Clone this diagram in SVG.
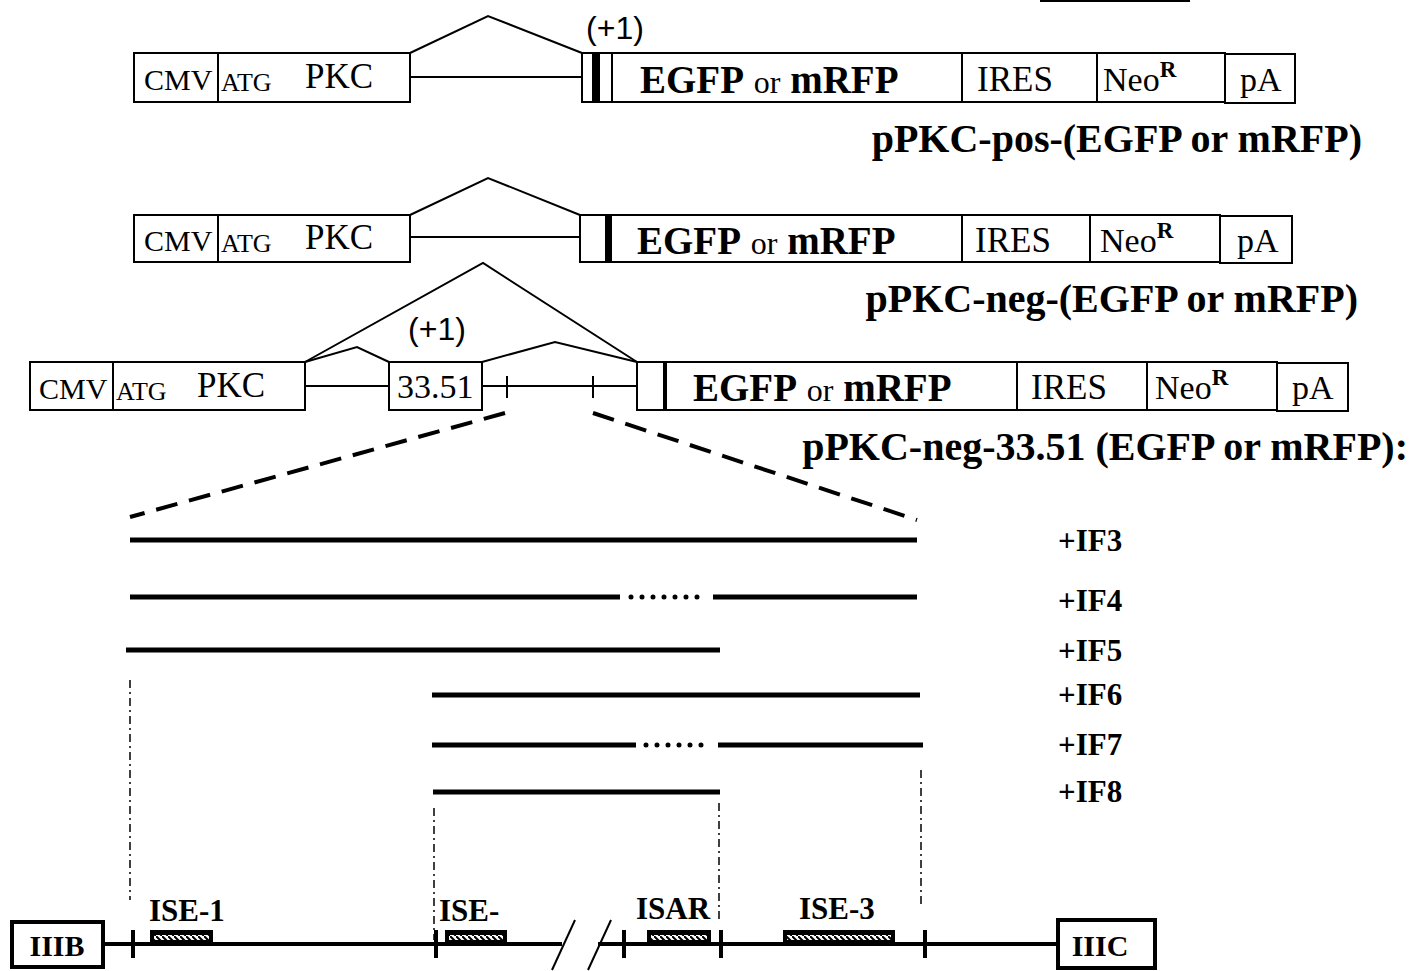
<svg xmlns="http://www.w3.org/2000/svg" width="1412" height="971" viewBox="0 0 1412 971">
<style>
.bx{fill:#fff;stroke:#000;stroke-width:2}
.ln{fill:none;stroke:#000;stroke-width:2}
.t{font-family:"Liberation Serif",serif;fill:#000}
.b{font-weight:bold}
.s{font-family:"Liberation Sans",sans-serif;fill:#000}
.bar{stroke:#000;stroke-width:5;fill:none}
.dots{stroke:#000;stroke-width:5;fill:none;stroke-linecap:round;stroke-dasharray:0 11}
.dd{stroke:#000;stroke-width:4;fill:none;stroke-dasharray:22 12}
.dash-dot{stroke:#000;stroke-width:1.5;fill:none;stroke-dasharray:8 4 2 4}
.tick{stroke:#000;stroke-width:4}
.thick{fill:#fff;stroke:#000;stroke-width:4}
</style>
<defs>
<pattern id="hatch" width="6" height="6" patternUnits="userSpaceOnUse">
<rect width="6" height="6" fill="#fff"/>
<path d="M0,0 L6,6" stroke="#000" stroke-width="2"/>
</pattern>
</defs>
<rect width="1412" height="971" fill="#fff"/>
<line x1="1040" y1="1" x2="1190" y2="1" stroke="#000" stroke-width="2"/>

<!-- Construct 1 -->
<g id="construct-pos">
<rect class="bx" x="134" y="53" width="276" height="49"/>
<line class="ln" x1="218" y1="53" x2="218" y2="102"/>
<text class="t" x="144" y="90" font-size="30">CMV</text>
<text class="t" x="221" y="91" font-size="26">ATG</text>
<text class="t" x="305" y="88" font-size="35">PKC</text>
<rect class="bx" x="582" y="53" width="30" height="49"/>
<rect x="592" y="53" width="8" height="49" fill="#000"/>
<rect class="bx" x="612" y="53" width="350" height="49"/>
<text class="t" x="640" y="93" font-size="39"><tspan class="b">EGFP</tspan> <tspan font-size="32">or</tspan> <tspan class="b">mRFP</tspan></text>
<rect class="bx" x="962" y="53" width="135" height="49"/>
<text class="t" x="977" y="91" font-size="35">IRES</text>
<rect class="bx" x="1097" y="53" width="128" height="49"/>
<text class="t" x="1103" y="91" font-size="34">Neo<tspan class="b" font-size="23" dy="-14">R</tspan></text>
<rect class="bx" x="1225" y="54" width="70" height="49"/>
<text class="t" x="1240" y="91" font-size="34">pA</text>
<text class="s" x="615" y="39" font-size="32" text-anchor="middle">(+1)</text>
<text class="t b" x="1362" y="152" font-size="40" text-anchor="end">pPKC-pos-(EGFP or mRFP)</text>
</g>

<!-- Construct 2 -->
<g id="construct-neg">
<rect class="bx" x="134" y="215" width="276" height="47"/>
<line class="ln" x1="218" y1="215" x2="218" y2="262"/>
<text class="t" x="144" y="251" font-size="30">CMV</text>
<text class="t" x="221" y="252" font-size="26">ATG</text>
<text class="t" x="305" y="249" font-size="35">PKC</text>
<rect class="bx" x="580" y="215" width="30" height="47"/>
<rect x="605" y="215" width="6" height="47" fill="#000"/>
<rect class="bx" x="611" y="215" width="351" height="47"/>
<text class="t" x="637" y="254" font-size="39"><tspan class="b">EGFP</tspan> <tspan font-size="32">or</tspan> <tspan class="b">mRFP</tspan></text>
<rect class="bx" x="962" y="215" width="128" height="47"/>
<text class="t" x="975" y="252" font-size="35">IRES</text>
<rect class="bx" x="1090" y="215" width="130" height="47"/>
<text class="t" x="1100" y="252" font-size="34">Neo<tspan class="b" font-size="23" dy="-14">R</tspan></text>
<rect class="bx" x="1220" y="216" width="72" height="47"/>
<text class="t" x="1237" y="252" font-size="34">pA</text>
<text class="t b" x="1358" y="312" font-size="40" text-anchor="end">pPKC-neg-(EGFP or mRFP)</text>
</g>

<!-- Construct 3 -->
<g id="construct-neg-3351">
<rect class="bx" x="30" y="362" width="275" height="48"/>
<line class="ln" x1="113" y1="362" x2="113" y2="410"/>
<text class="t" x="39" y="399" font-size="30">CMV</text>
<text class="t" x="116" y="400" font-size="26">ATG</text>
<text class="t" x="197" y="397" font-size="35">PKC</text>
<rect class="bx" x="389" y="362" width="93" height="48"/>
<text class="t" x="397" y="398" font-size="34">33.51</text>
<rect class="bx" x="637" y="362" width="28" height="48"/>
<rect x="663" y="362" width="4" height="48" fill="#000"/>
<rect class="bx" x="666" y="362" width="351" height="48"/>
<text class="t" x="693" y="401" font-size="39"><tspan class="b">EGFP</tspan> <tspan font-size="32">or</tspan> <tspan class="b">mRFP</tspan></text>
<rect class="bx" x="1017" y="362" width="130" height="48"/>
<text class="t" x="1031" y="399" font-size="35">IRES</text>
<rect class="bx" x="1147" y="362" width="130" height="48"/>
<text class="t" x="1155" y="399" font-size="34">Neo<tspan class="b" font-size="23" dy="-14">R</tspan></text>
<rect class="bx" x="1277" y="363" width="71" height="48"/>
<text class="t" x="1292" y="399" font-size="34">pA</text>
<text class="s" x="437" y="340" font-size="32" text-anchor="middle">(+1)</text>
<text class="t b" x="1408" y="460" font-size="40" text-anchor="end">pPKC-neg-33.51 (EGFP or mRFP):</text>
</g>

<!-- Isoform bars -->
<g id="isoforms">
<line class="bar" x1="130" y1="540" x2="917" y2="540"/>
<line class="bar" x1="130" y1="597" x2="620" y2="597"/>
<line class="dots" x1="631" y1="597" x2="706" y2="597"/>
<line class="bar" x1="713" y1="597" x2="917" y2="597"/>
<line class="bar" x1="126" y1="650" x2="720" y2="650"/>
<line class="bar" x1="432" y1="695" x2="920" y2="695"/>
<line class="bar" x1="432" y1="745" x2="636" y2="745"/>
<line class="dots" x1="646" y1="745" x2="711" y2="745"/>
<line class="bar" x1="718" y1="745" x2="923" y2="745"/>
<line class="bar" x1="433" y1="792" x2="720" y2="792"/>
<g class="t b" font-size="31">
<text x="1058" y="551">+IF3</text>
<text x="1058" y="611">+IF4</text>
<text x="1058" y="661">+IF5</text>
<text x="1058" y="705">+IF6</text>
<text x="1058" y="755">+IF7</text>
<text x="1058" y="802">+IF8</text>
</g>
</g>

<!-- Bottom gene -->
<g id="gene">
<rect class="thick" x="12" y="922" width="91" height="45"/>
<text class="t b" x="57" y="956" font-size="30" text-anchor="middle">IIIB</text>
<rect class="thick" x="1058" y="920" width="97" height="48"/>
<text class="t b" x="1100" y="956" font-size="30" text-anchor="middle">IIIC</text>
<line x1="103" y1="944" x2="562" y2="944" stroke="#000" stroke-width="4"/>
<line x1="598" y1="944" x2="1058" y2="944" stroke="#000" stroke-width="4"/>
<line x1="552" y1="970" x2="575" y2="920" stroke="#000" stroke-width="2"/>
<line x1="588" y1="970" x2="611" y2="920" stroke="#000" stroke-width="2"/>
<line class="tick" x1="133" y1="930" x2="133" y2="958"/>
<line class="tick" x1="436" y1="930" x2="436" y2="958"/>
<line class="tick" x1="624" y1="930" x2="624" y2="958"/>
<line class="tick" x1="721" y1="930" x2="721" y2="958"/>
<line class="tick" x1="925" y1="930" x2="925" y2="958"/>
<rect x="150" y="930" width="63" height="15" fill="#000"/>
<rect x="154" y="935" width="55" height="5" fill="url(#hatch)"/>
<rect x="445" y="930" width="62" height="15" fill="#000"/>
<rect x="449" y="935" width="54" height="5" fill="url(#hatch)"/>
<rect x="647" y="930" width="64" height="15" fill="#000"/>
<rect x="651" y="935" width="56" height="5" fill="url(#hatch)"/>
<rect x="783" y="930" width="112" height="15" fill="#000"/>
<rect x="787" y="935" width="104" height="5" fill="url(#hatch)"/>
<g class="t b" font-size="31">
<text x="149" y="921">ISE-1</text>
<text x="439" y="921">ISE-</text>
<text x="636" y="919">ISAR</text>
<text x="799" y="919">ISE-3</text>
</g>
</g>

<!-- Connectors -->
<g id="connectors">
<line class="ln" x1="410" y1="77" x2="582" y2="77"/>
<polyline class="ln" points="410,53 488,16 582,53"/>
<line class="ln" x1="410" y1="237" x2="580" y2="237"/>
<polyline class="ln" points="410,215 488,178 580,215"/>
<line class="ln" x1="305" y1="386" x2="389" y2="386"/>
<line class="ln" x1="482" y1="386" x2="637" y2="386"/>
<line class="ln" x1="507" y1="376" x2="507" y2="398"/>
<line class="ln" x1="593" y1="376" x2="593" y2="398"/>
<polyline class="ln" points="305,362 483,263 637,362"/>
<polyline class="ln" points="305,362 357,347 389,362"/>
<polyline class="ln" points="482,362 555,342 637,362"/>
<line class="dd" x1="505" y1="413" x2="130" y2="517"/>
<line class="dd" x1="593" y1="413" x2="917" y2="520"/>
<line class="dash-dot" x1="130" y1="680" x2="130" y2="900"/>
<line class="dash-dot" x1="434" y1="808" x2="434" y2="940"/>
<line class="dash-dot" x1="719" y1="803" x2="719" y2="922"/>
<line class="dash-dot" x1="921" y1="770" x2="921" y2="905"/>
</g>
</svg>
